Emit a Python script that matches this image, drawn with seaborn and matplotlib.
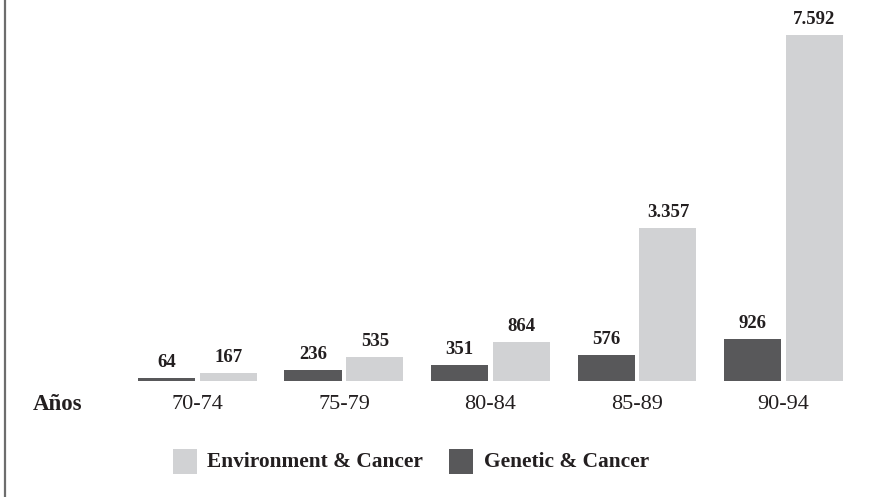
import matplotlib
matplotlib.use("Agg")
import matplotlib.pyplot as plt
from matplotlib.patches import Rectangle
from matplotlib.lines import Line2D
import seaborn as sns
import pandas as pd

# Publication counts per five-year period
periods = ["70-74", "75-79", "80-84", "85-89", "90-94"]
genetic = [64, 236, 351, 576, 926]
environment = [167, 535, 864, 3357, 7592]
series_names = ["Genetic & Cancer", "Environment & Cancer"]
legend_order = ["Environment & Cancer", "Genetic & Cancer"]
axis_label = "Años"

dark = "#58585a"
light = "#d1d2d4"
ink = "#231f20"
serif = ["Liberation Serif", "DejaVu Serif"]

df = pd.DataFrame({
    "period": periods * 2,
    "count": genetic + environment,
    "series": [series_names[0]] * len(periods) + [series_names[1]] * len(periods),
})

sns.set_theme(style="white")
plt.rcParams["font.family"] = serif

fig = plt.figure(figsize=(8.86, 4.97), dpi=100)
ax = fig.add_axes([0.1402, 0.2334, 0.8268, 0.7336])

palette = {series_names[0]: dark, series_names[1]: light}
sns.barplot(data=df, x="period", y="count", hue="series", order=periods,
            hue_order=series_names, palette=palette, width=0.846, gap=0.08,
            saturation=1, edgecolor="none", linewidth=0, legend=False, ax=ax)

ax.set_ylim(0, 8000)
ax.set_xlim(-0.5, len(periods) - 0.5)
for s in ax.spines.values():
    s.set_visible(False)
ax.set_yticks([])
ax.set_xlabel("")
ax.set_ylabel("")
ax.tick_params(axis="x", length=0, pad=10, labelsize=16, labelcolor=ink)

for container in ax.containers:
    labels = [f"{int(v):,}".replace(",", ".") for v in container.datavalues]
    ax.bar_label(container, labels=labels, padding=5, fontsize=13.5,
                 fontweight="bold", color=ink)

# Row caption to the left of the period labels
fig.text(58 / 886, 1 - 404 / 497, axis_label, ha="center", va="center",
         fontsize=16.5, fontweight="bold", color=ink)

# Legend drawn as swatches with bold captions
W, H = 886, 497
items = [(legend_order[0], light, 173, 207), (legend_order[1], dark, 449, 484)]
for name, color, sx, tx in items:
    fig.add_artist(Rectangle((sx / W, 1 - 474 / H), 24 / W, 25 / H,
                             transform=fig.transFigure, facecolor=color,
                             edgecolor="none"))
    fig.text(tx / W, 1 - 462 / H, name, ha="left", va="center",
             fontsize=15.4, fontweight="bold", color=ink)

# Left frame rule
fig.add_artist(Line2D([5 / W, 5 / W], [0, 1], transform=fig.transFigure,
                      color="#6d6d6d", linewidth=1.6))

fig.savefig("out.png", dpi=100, facecolor="white")
